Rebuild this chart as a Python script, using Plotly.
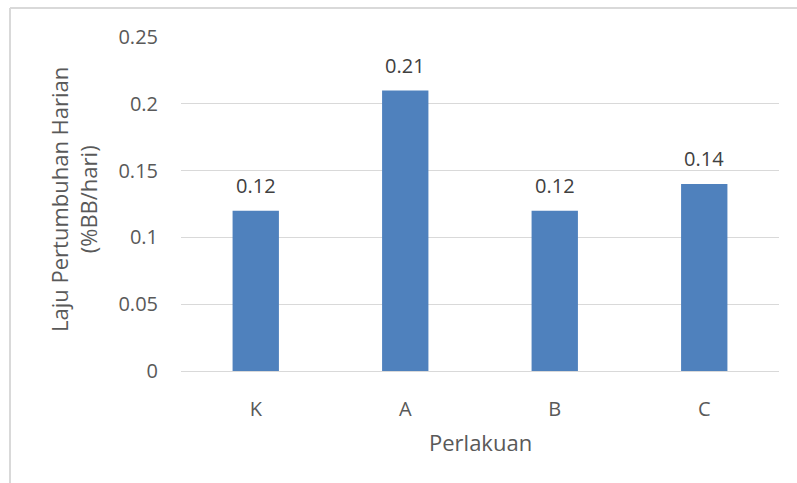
import plotly.graph_objects as go

# Daily growth rate per treatment
perlakuan = ["K", "A", "B", "C"]
laju = [0.12, 0.21, 0.12, 0.14]
label_teks = ["0.12", "0.21", "0.12", "0.14"]

W, H = 797, 483
L, R, T, B = 181, 18, 37, 112
pw, ph = W - L - R, H - T - B

def px_x(x):
    return (x - L) / pw

def px_y(y):
    return 1 - (y - T) / ph

FONT = "Open Sans, Liberation Sans, sans-serif"
GRAY = "#595959"
BORDER = "#d9d9d9"

fig = go.Figure(
    go.Bar(
        x=perlakuan,
        y=laju,
        marker=dict(color="#4f81bd", line=dict(width=0)),
        width=0.31,
        hoverinfo="x+y",
    )
)

# value labels sitting above each bar
labels = [
    dict(
        x=k,
        y=v,
        text=t,
        xref="x",
        yref="y",
        showarrow=False,
        yshift=25,
        xanchor="center",
        yanchor="middle",
        font=dict(family=FONT, size=20, color="#404040"),
    )
    for k, v, t in zip(perlakuan, laju, label_teks)
]

fig.update_layout(
    width=W,
    height=H,
    margin=dict(l=L, r=R, t=T, b=B, autoexpand=False),
    paper_bgcolor="white",
    plot_bgcolor="white",
    showlegend=False,
    font=dict(family=FONT, size=20, color=GRAY),
    xaxis=dict(
        showgrid=False,
        showline=True,
        linecolor=BORDER,
        linewidth=1,
        ticks="",
        ticklabelstandoff=20,
        tickfont=dict(family=FONT, size=20, color=GRAY),
    ),
    yaxis=dict(
        range=[0, 0.25],
        tickvals=[0, 0.05, 0.1, 0.15, 0.2, 0.25],
        ticktext=["0", "0.05", "0.1", "0.15", "0.2", "0.25"],
        showgrid=True,
        gridcolor=BORDER,
        gridwidth=1,
        zeroline=False,
        ticks="",
        ticklabelstandoff=22,
        tickfont=dict(family=FONT, size=20, color=GRAY),
    ),
    shapes=[
        dict(
            type="line",
            xref="paper",
            yref="paper",
            x0=px_x(10),
            x1=px_x(10),
            y0=px_y(H + 5),
            y1=px_y(8),
            line=dict(color=BORDER, width=2),
        ),
        dict(
            type="line",
            xref="paper",
            yref="paper",
            x0=px_x(10),
            x1=px_x(W + 5),
            y0=px_y(8),
            y1=px_y(8),
            line=dict(color=BORDER, width=2),
        ),
    ],
    annotations=labels
    + [
        dict(
            text="Laju Pertumbuhan Harian<br>(%BB/hari)",
            xref="paper",
            yref="paper",
            x=px_x(73),
            y=px_y(200),
            textangle=-90,
            showarrow=False,
            font=dict(family=FONT, size=22, color=GRAY),
            xanchor="center",
            yanchor="middle",
        ),
        dict(
            text="Perlakuan",
            xref="paper",
            yref="paper",
            x=0.5,
            y=px_y(442),
            showarrow=False,
            font=dict(family=FONT, size=22, color=GRAY),
            xanchor="center",
            yanchor="middle",
        ),
    ],
)

fig.write_html("out.html")
